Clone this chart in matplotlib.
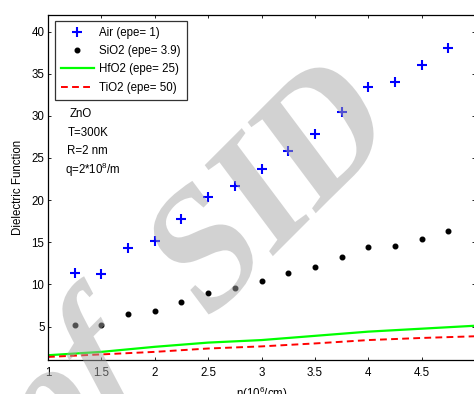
import numpy as np
import matplotlib
matplotlib.use("Agg")
import matplotlib.pyplot as plt
from matplotlib.textpath import TextPath
from matplotlib.patches import PathPatch
from matplotlib.font_manager import FontProperties
from matplotlib.transforms import Affine2D

plt.rcParams['font.family'] = ['Liberation Sans', 'DejaVu Sans']
plt.rcParams['mathtext.fontset'] = 'custom'
plt.rcParams['mathtext.rm'] = 'Liberation Sans'
plt.rcParams['mathtext.default'] = 'regular'

# ---- data ----
n_pts = [1.25, 1.5, 1.75, 2.0, 2.25, 2.5, 2.75, 3.0, 3.25, 3.5, 3.75, 4.0, 4.25, 4.5, 4.75]
air = [11.4, 11.2, 14.3, 15.2, 17.8, 20.4, 21.7, 23.7, 25.8, 27.9, 30.4, 33.4, 34.0, 36.0, 38.1]
sio2 = [5.2, 5.2, 6.5, 6.8, 7.9, 9.0, 9.6, 10.4, 11.3, 12.1, 13.2, 14.4, 14.6, 15.4, 16.3]
n_line = [1.0, 1.5, 2.0, 2.5, 3.0, 3.5, 4.0, 4.5, 5.0]
hfo2 = [1.6, 2.0, 2.6, 3.1, 3.4, 3.9, 4.4, 4.75, 5.1]
tio2 = [1.4, 1.7, 2.0, 2.4, 2.65, 3.0, 3.4, 3.65, 3.85]
labels = ['Air (epe= 1)', 'SiO2 (epe= 3.9)', 'HfO2 (epe= 25)', 'TiO2 (epe= 50)']
xticks = [1, 1.5, 2, 2.5, 3, 3.5, 4, 4.5]
xtick_labels = ['1', '1.5', '2', '2.5', '3', '3.5', '4', '4.5']
yticks = [5, 10, 15, 20, 25, 30, 35, 40]

W, H = 474, 394
FS = 8.3
fig = plt.figure(figsize=(W / 100, H / 100), dpi=100)
ax = fig.add_axes([48 / W, (H - 360.3) / H, (475 - 48) / W, (360.3 - 14.7) / H])

ax.plot(n_pts, air, linestyle='none', marker='+', color='#0000ff', ms=7, mew=1.5, label=labels[0])
ax.plot(n_pts, sio2, linestyle='none', marker='o', color='black', ms=3.3, label=labels[1])
ax.plot(n_line, hfo2, color='#00ff00', lw=1.6, label=labels[2])
ax.plot(n_line, tio2, color='#ff0000', lw=1.4, ls=(0, (3.5, 2.2)), label=labels[3])

ax.set_xlim(1, 5)
ax.set_ylim(1, 42)
ax.set_xticks(xticks)
ax.set_xticklabels(xtick_labels)
ax.set_yticks(yticks)
ax.tick_params(direction='in', length=2.5, width=0.6, top=True, right=True, labelsize=FS, colors='black')
ax.tick_params(axis='x', pad=4.5)
ax.tick_params(axis='y', pad=2.5)
for s in ax.spines.values():
    s.set_linewidth(0.9)

ax.set_xlabel('n(10$^{6}$/cm)', fontsize=FS)
ax.xaxis.set_label_coords(0.501, -0.072)
ax.set_ylabel('Dielectric Function', fontsize=FS)
ax.yaxis.set_label_coords(-0.057, 0.5)

ax.text(0.0515, 0.705, 'ZnO', transform=ax.transAxes, fontsize=FS, va='baseline')
ax.text(0.046, 0.650, 'T=300K', transform=ax.transAxes, fontsize=FS, va='baseline')
ax.text(0.0445, 0.597, 'R=2 nm', transform=ax.transAxes, fontsize=FS, va='baseline')
ax.text(0.040, 0.539, 'q=2*10$^{8}$/m', transform=ax.transAxes, fontsize=FS, va='baseline')

leg = ax.legend(loc='upper left', bbox_to_anchor=(55 / W, 1 - 21 / H), bbox_transform=fig.transFigure,
                borderaxespad=0, fontsize=FS, frameon=True, fancybox=False, handlelength=2.9,
                handletextpad=0.45, labelspacing=0.55, borderpad=0.5, numpoints=1)
leg.get_frame().set_edgecolor('black')
leg.get_frame().set_linewidth(0.9)

# ---- watermark ----
a = np.array([115.0, 115.0])
b = np.array([-104.0, 139.0])
O = np.array([205.0, H - 324.0])
wm_col = (0.647, 0.647, 0.647)

def add_wm(text, prop, origin):
    tp = TextPath((0, 0), text, size=1, prop=prop)
    M = np.array([[a[0], b[0], origin[0]], [a[1], b[1], origin[1]], [0, 0, 1]])
    fig.add_artist(PathPatch(tp, transform=Affine2D(M), facecolor=wm_col, edgecolor='none',
                             alpha=0.49, zorder=10))

add_wm('SID', FontProperties(family='Liberation Serif', weight='bold'), O)
add_wm('of', FontProperties(family='Liberation Serif', weight='bold', style='italic'), O - 1.34 * a)

fig.savefig('out.png', dpi=100)
